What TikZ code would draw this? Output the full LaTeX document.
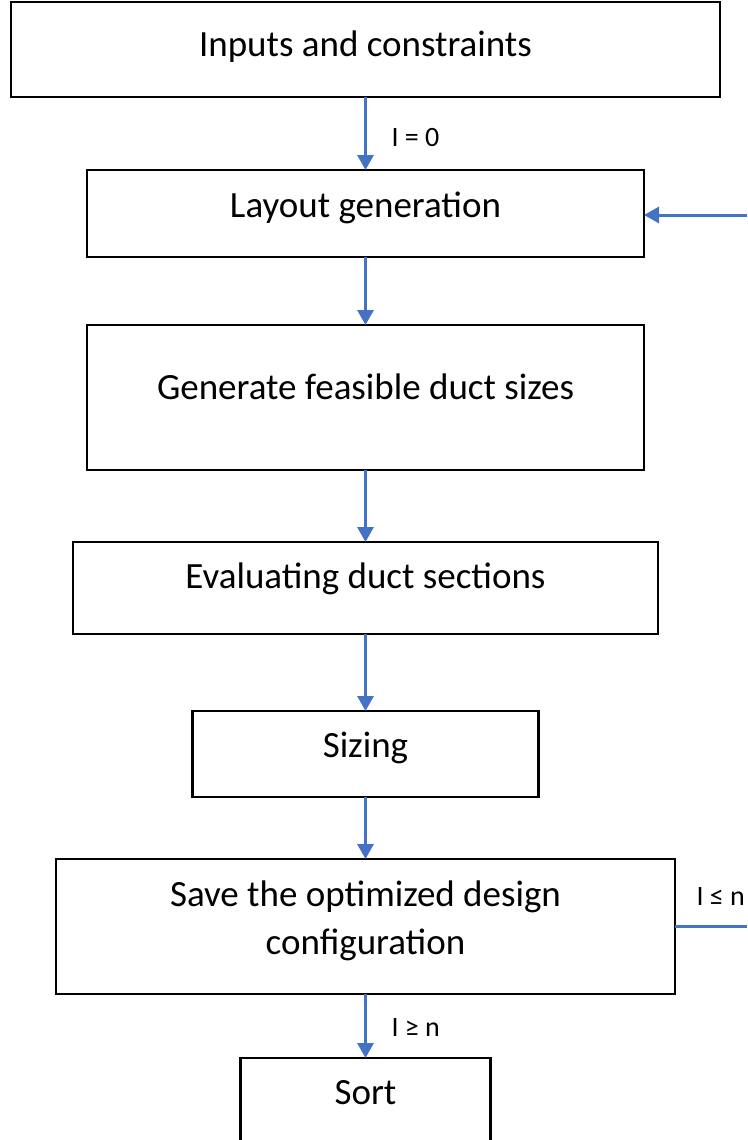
\documentclass[tikz,border=0pt]{standalone}
\usepackage{fontspec}
\setmainfont{Carlito}
\usetikzlibrary{arrows.meta}
\definecolor{flowblue}{HTML}{4472C4}
\begin{document}
\begin{tikzpicture}[x=1pt,y=-1pt,
  box/.style={draw=black, line width=2.6pt, outer sep=0pt, inner sep=0pt},
  txt/.style={font=\fontsize{37}{48}\selectfont, align=center, inner sep=0pt},
  lab/.style={font=\fontsize{28}{34}\selectfont, inner sep=0pt},
  flow/.style={draw=flowblue, line width=3pt, -{Triangle[length=15pt,width=16pt]}},
  link/.style={draw=flowblue, line width=3pt}]
\useasboundingbox (0,0) rectangle (747,1140);
\clip (0,0) rectangle (747,1140);
% boxes
\node[box, minimum width=709pt, minimum height=95pt] (b1) at (365.5,49.5) {};
\node[box, minimum width=557pt, minimum height=87pt] (b2) at (365.5,213.5) {};
\node[box, minimum width=557pt, minimum height=145pt] (b3) at (365.5,397.5) {};
\node[box, minimum width=585pt, minimum height=92pt] (b4) at (365.5,588) {};
\node[box, minimum width=346pt, minimum height=86pt] (b5) at (365.5,754) {};
\node[box, minimum width=619pt, minimum height=135pt] (b6) at (365.5,926.5) {};
\node[box, minimum width=250pt, minimum height=130pt, anchor=north] (b7) at (365.5,1058) {};
% texts
\node[txt] (t1) at (365.5,47) {Inputs and constraints};
\node[txt] (t2) at (365.5,208) {Layout generation};
\node[txt] (t3) at (365.5,387) {Generate feasible duct sizes};
\node[txt] (t4) at (365.5,579) {Evaluating duct sections};
\node[txt] (t5) at (365.5,748) {Sizing};
\node[txt] (t6) at (365.5,921) {Save the optimized design\\configuration};
\node[txt] (t7) at (365.5,1093) {Sort};
% connectors
\draw[flow] (b1.south) -- (b2.north) node[lab, pos=0.55, anchor=west, xshift=24.5pt] (l1) {I = 0};
\draw[flow] (b2.south) -- (b3.north);
\draw[flow] (b3.south) -- (b4.north);
\draw[flow] (b4.south) -- (b5.north);
\draw[flow] (b5.south) -- (b6.north);
\draw[flow] (b6.south) -- (b7.north) node[lab, pos=0.52, anchor=west, xshift=24.5pt] (l2) {I ≥ n};
\coordinate (fbin) at (747,215);
\coordinate (fbout) at (747,926.5);
\draw[flow] (fbin) -- (b2.east |- fbin);
\draw[link] (b6.east) -- (fbout) node[lab, at start, anchor=west, xshift=20pt, yshift=29.5pt] (l3) {I ≤ n};
\end{tikzpicture}
\end{document}
